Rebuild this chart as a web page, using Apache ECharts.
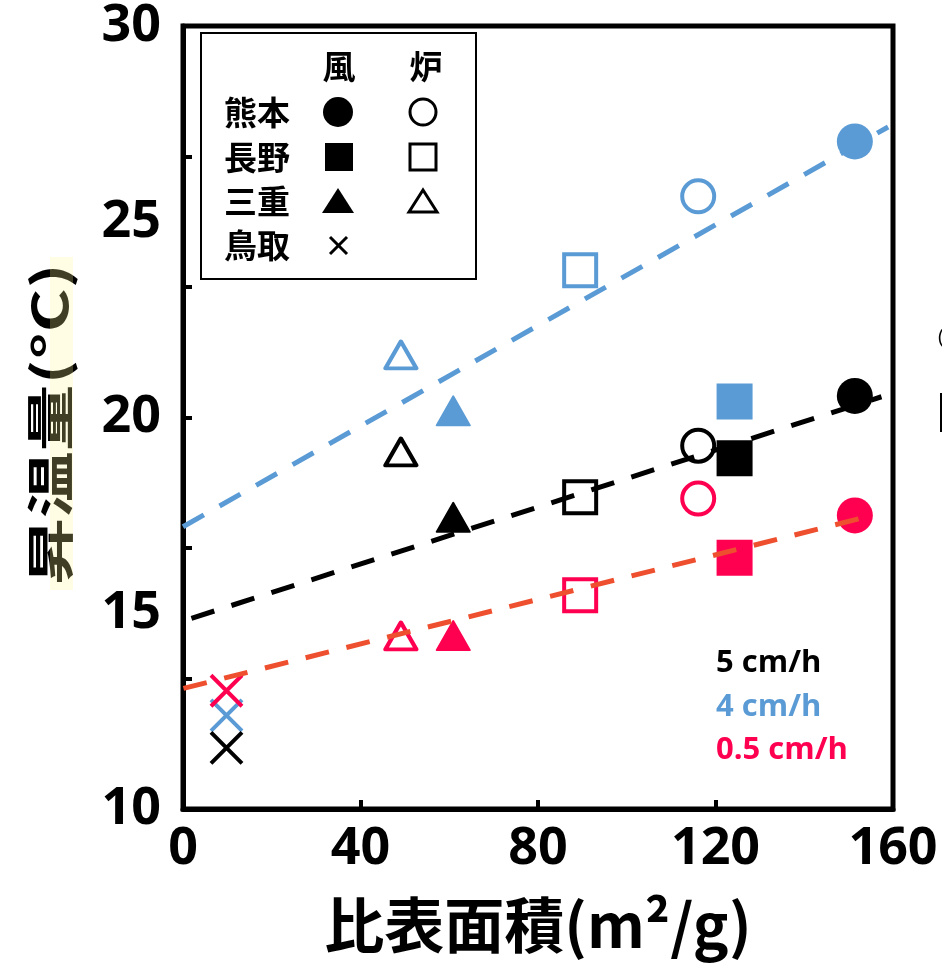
<!DOCTYPE html>
<html>
<head>
<meta charset="UTF-8">
<title>昇温量と比表面積</title>
<style>
html, body { margin: 0; padding: 0; background: #fff; }
#main { width: 942px; height: 965px; }
</style>
</head>
<body>
<div id="main"></div>
<script src="https://cdn.jsdelivr.net/npm/echarts@6/dist/echarts.min.js"></script>
<script>
// 試料の並び: 熊本(風,炉) 長野(風,炉) 三重(風,炉) 鳥取(風)
var sites = ['熊本・風', '熊本・炉', '長野・風', '長野・炉', '三重・風', '三重・炉', '鳥取・風'];
var surfaceArea = [151.4, 116.1, 124.3, 89.5, 60.9, 49.1, 9.8];   // 比表面積 m2/g
var rise5  = [20.55, 19.28, 18.96, 17.96, 17.45, 19.12, 11.56];   // 5 cm/h
var rise4  = [27.05, 25.65, 20.41, 23.76, 20.17, 21.60, 12.39];   // 4 cm/h
var rise05 = [17.50, 17.93, 16.42, 15.46, 14.43, 14.42, 13.02];   // 0.5 cm/h

// 近似直線の両端
var trendX5  = [1.9, 157.4];  var trendY5  = [14.87, 20.53];
var trendX4  = [0, 158.9];    var trendY4  = [17.21, 27.42];
var trendX05 = [0.1, 154.0];  var trendY05 = [13.08, 17.46];

var rates = ['5 cm/h', '4 cm/h', '0.5 cm/h'];
var legendRows = ['熊本', '長野', '三重', '鳥取'];
var legendCols = ['風', '炉'];
var yMinorTicks = [13.333, 16.667, 20, 23.333, 26.667];

var BLACK = '#000000', BLUE = '#5B9BD5', RED = '#FF0050', RED_LINE = '#EE502F';
var CJK = 'Noto Sans CJK JP';

var chart = echarts.init(document.getElementById('main'));

// 記号の形 (風=塗り, 炉=白抜き)
var shapes = ['circle', 'circle', 'rect', 'rect', 'triangle', 'triangle', 'cross'];
var filled = [true, false, true, false, true, false, true];

function marker(i, y, color) {
    var item = { name: sites[i], value: [surfaceArea[i], y] };
    var s = shapes[i];
    if (s == 'cross') {
        item.symbol = 'path://M0,0L10,10M10,0L0,10';
        item.symbolSize = 31;
        item.itemStyle = { color: 'rgba(0,0,0,0)', borderColor: color, borderWidth: 4, opacity: 1 };
    } else if (s == 'triangle') {
        item.symbol = 'triangle';
        item.symbolSize = filled[i] ? [33, 29] : [31, 27];
        item.itemStyle = filled[i]
            ? { color: color, borderColor: color, borderWidth: 2, borderJoin: 'round', opacity: 1 }
            : { color: 'rgba(0,0,0,0)', borderColor: color, borderWidth: 4, borderJoin: 'round', opacity: 1 };
    } else {
        item.symbol = s;
        item.symbolSize = filled[i] ? 36 : 32;
        item.itemStyle = filled[i]
            ? { color: color, opacity: 1 }
            : { color: 'rgba(0,0,0,0)', borderColor: color, borderWidth: 4, opacity: 1 };
    }
    return item;
}

function scatter(name, ys, color) {
    var data = [];
    for (var i = 0; i < ys.length; i++) data.push(marker(i, ys[i], color));
    return { name: name, type: 'scatter', data: data, z: 3, itemStyle: { opacity: 1 } };
}

function trend(name, xs, ys, color, z) {
    return {
        name: name, type: 'line', showSymbol: false, silent: true, z: z,
        data: [[xs[0], ys[0]], [xs[1], ys[1]]],
        lineStyle: { color: color, width: 5, type: [24, 18], cap: 'butt' }
    };
}

// 凡例 (図中の枠)
var g = [];
g.push({ type: 'rect', shape: { x: 201, y: 33, width: 275, height: 246 },
         style: { fill: '#fff', stroke: '#000', lineWidth: 2 }, z: 50 });
var colX = [339, 426];
var rowY = [112, 157, 201, 245];
for (var c = 0; c < legendCols.length; c++) {
    g.push({ type: 'text', x: colX[c], y: 66, z: 51,
             style: { text: legendCols[c], font: 'bold 33px "' + CJK + '"', fill: '#000', align: 'center', verticalAlign: 'middle' } });
}
for (var r = 0; r < legendRows.length; r++) {
    g.push({ type: 'text', x: 257, y: rowY[r], z: 51,
             style: { text: legendRows[r], font: 'bold 33px "' + CJK + '"', fill: '#000', align: 'center', verticalAlign: 'middle' } });
}
var sk = { fill: 'none', stroke: '#000', lineWidth: 3 };
g.push({ type: 'circle', shape: { cx: 338, cy: 112, r: 15 }, style: { fill: '#000' }, z: 51 });
g.push({ type: 'circle', shape: { cx: 423, cy: 112, r: 13 }, style: sk, z: 51 });
g.push({ type: 'rect', shape: { x: 325, y: 143, width: 28, height: 28 }, style: { fill: '#000' }, z: 51 });
g.push({ type: 'rect', shape: { x: 410, y: 144, width: 26, height: 26 }, style: sk, z: 51 });
g.push({ type: 'polygon', shape: { points: [[338, 188], [354, 213], [322, 213]] }, style: { fill: '#000' }, z: 51 });
g.push({ type: 'polygon', shape: { points: [[423, 190], [437, 212], [409, 212]] }, style: sk, z: 51 });
g.push({ type: 'line', shape: { x1: 330, y1: 237, x2: 347, y2: 254 }, style: { stroke: '#000', lineWidth: 3 }, z: 51 });
g.push({ type: 'line', shape: { x1: 347, y1: 237, x2: 330, y2: 254 }, style: { stroke: '#000', lineWidth: 3 }, z: 51 });

// 通水速度の注記
var rateColors = [BLACK, BLUE, RED];
var rateY = [663, 707, 750];
for (var k = 0; k < rates.length; k++) {
    g.push({ type: 'text', x: 716, y: rateY[k], z: 51,
             style: { text: rates[k], font: 'bold 31px "Open Sans"', fill: rateColors[k], verticalAlign: 'middle' } });
}

// 縦軸タイトル (縦に少し引き伸ばされている)
g.push({ type: 'text', x: 50, y: 424, rotation: Math.PI / 2, scaleX: 1.39, z: 60,
         style: { text: '昇温量(°C)', font: 'bold 48px "' + CJK + '"', fill: '#000', align: 'center', verticalAlign: 'middle' } });
// 黄色いハイライト
g.push({ type: 'rect', shape: { x: 50, y: 257, width: 23, height: 333 },
         style: { fill: 'rgba(255,250,150,0.25)' }, z: 100 });

// 右端の切れた文字
g.push({ type: 'rect', shape: { x: 940, y: 393, width: 2, height: 39 }, style: { fill: '#000' }, z: 51 });
g.push({ type: 'text', x: 938, y: 337, z: 51,
         style: { text: '(', font: '20px "Open Sans"', fill: '#000', verticalAlign: 'middle' } });

var option = {
    backgroundColor: '#fff',
    animation: false,
    grid: { left: 183, right: 49, top: 21, bottom: 156, show: true, borderColor: '#000', borderWidth: 5 },
    xAxis: {
        type: 'value', min: 0, max: 160, interval: 40,
        name: '比表面積(m²/g)', nameLocation: 'middle', nameGap: 86,
        nameTextStyle: { fontSize: 60, fontWeight: 'bold', fontFamily: CJK, color: '#000' },
        axisLine: { show: true, lineStyle: { color: '#000', width: 5 } },
        axisTick: { show: true, inside: true, length: 9, lineStyle: { color: '#000', width: 4 } },
        axisLabel: { margin: 14, fontSize: 52, fontWeight: 'bold', fontFamily: 'Open Sans', color: '#000' },
        splitLine: { show: false }
    },
    yAxis: {
        type: 'value', min: 10, max: 30, interval: 5,
        axisLine: { show: true, lineStyle: { color: '#000', width: 5 } },
        axisTick: { show: true, inside: true, length: 9, customValues: yMinorTicks, lineStyle: { color: '#000', width: 4 } },
        axisLabel: { margin: 22, fontSize: 52, fontWeight: 'bold', fontFamily: 'Open Sans', color: '#000' },
        splitLine: { show: false }
    },
    graphic: { elements: g },
    series: [
        trend('trend 4 cm/h', trendX4, trendY4, BLUE, 2),
        scatter('4 cm/h', rise4, BLUE),
        scatter('5 cm/h', rise5, BLACK),
        scatter('0.5 cm/h', rise05, RED),
        trend('trend 5 cm/h', trendX5, trendY5, BLACK, 4),
        trend('trend 0.5 cm/h', trendX05, trendY05, RED_LINE, 4)
    ]
};
chart.setOption(option);
</script>
</body>
</html>
